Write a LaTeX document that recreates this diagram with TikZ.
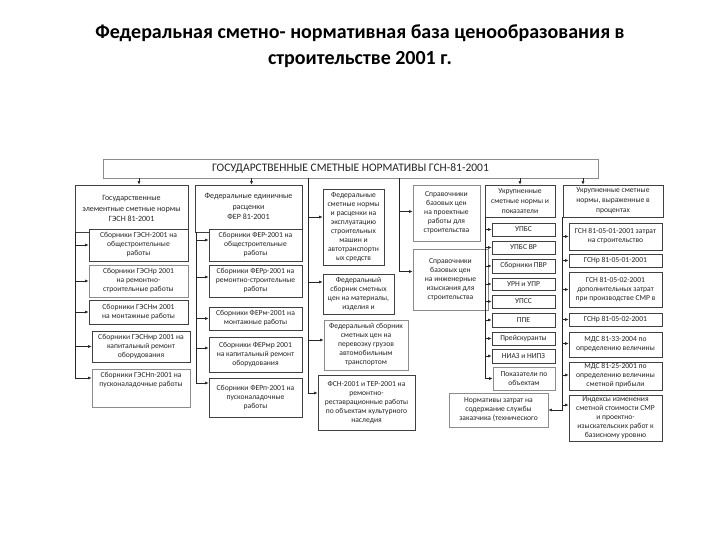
\documentclass[tikz,border=0pt]{standalone}
\usepackage{fontspec}
\setmainfont{Carlito}
\usetikzlibrary{arrows.meta}
\newcommand\mybox[8][]{%
 \pgfmathsetmacro\mbw{#6-#4}\pgfmathsetmacro\mbh{#7-#5}%
 \pgfmathsetmacro\mbx{(#4+#6)/2}\pgfmathsetmacro\mby{(#5+#7)/2}%
 \node[frame,minimum width=\mbw pt,minimum height=\mbh pt,#2] (#3) at (\mbx,\mby) {};%
 \node[txt,#1] at (#3) {#8};}
\begin{document}
\begin{tikzpicture}[x=1pt,y=-1pt,
 frame/.style={draw=black!75,line width=0.7pt,inner sep=0pt,fill=white},
 light/.style={draw=black!45},
 txt/.style={align=center,inner sep=0pt,text=black!85,font=\fontsize{7.6}{9}\selectfont},
 hdr/.style={font=\fontsize{8}{10.5}\selectfont},
 arr/.style={draw=black!85,line width=0.6pt,-{Latex[length=3.5pt,width=3pt]}}]
\fill[white] (0,0) rectangle (720,540);
\useasboundingbox (0,0) rectangle (720,540);
\node[align=center,font=\bfseries\fontsize{20}{26}\selectfont] (title) at (360,46)
 {Федеральная сметно- нормативная база ценообразования в\\строительстве 2001 г.};
% top box
\mybox[font=\fontsize{11.5}{14}\selectfont]{light}{top}{103}{159}{598}{178}{ГОСУДАРСТВЕННЫЕ СМЕТНЫЕ НОРМАТИВЫ ГСН-81-2001}
% column 1
\mybox[hdr]{}{h1}{75}{185}{188}{232}{Государственные\\элементные сметные нормы\\ГЭСН 81-2001}
\mybox{}{a1}{89}{229}{188}{261}{Сборники ГЭСН-2001 на\\общестроительные\\работы}
\mybox{light}{a2}{89}{265}{188}{297}{Сборники ГЭСНр 2001\\на ремонтно-\\строительные работы}
\mybox{}{a3}{89}{300}{188}{324}{Сборники ГЭСНм 2001\\на монтажные работы}
\mybox{}{a4}{92}{331}{190}{362}{Сборники ГЭСНмр 2001 на\\капитальный ремонт\\оборудования}
\mybox[yshift=8pt]{light}{a5}{92}{369}{190}{407}{Сборники ГЭСНп-2001 на\\пусконаладочные работы}
% column 2
\mybox[hdr,yshift=2pt]{}{h2}{195}{185}{302}{232}{Федеральные единичные\\расценки\\ФЕР 81-2001}
\mybox{}{b1}{209}{229}{302}{261}{Сборники ФЕР-2001 на\\общестроительные\\работы}
\mybox{}{b2}{209}{265}{302}{297}{Сборники ФЕРр-2001 на\\ремонтно-строительные\\работы}
\mybox{}{b3}{209}{307}{302}{330}{Сборники ФЕРм-2001 на\\монтажные работы}
\mybox{}{b4}{209}{337}{302}{372}{Сборники ФЕРмр 2001\\на капитальный ремонт\\оборудования}
\mybox{}{b5}{209}{378}{302}{417}{Сборники ФЕРп-2001 на\\пусконаладочные\\работы}
% column 3
\mybox{}{c1}{323}{189}{384}{265}{Федеральные\\сметные нормы\\и расценки на\\эксплуатацию\\строительных\\машин и\\автотранспортн\\ых средств}
\mybox{}{c2}{323}{274}{394}{314}{Федеральный\\сборник сметных\\цен на материалы,\\изделия и}
\mybox{light}{c3}{324}{320}{408}{370}{Федеральный сборник\\сметных цен на\\перевозку грузов\\автомобильным\\транспортом}
\mybox{}{c4}{318}{375}{415}{430}{ФСН-2001 и ТЕР-2001 на\\ремонтно-\\реставрационные работы\\по объектам культурного\\наследия}
% column 4
\mybox{light}{d1}{413}{185}{480}{241}{Справочники\\базовых цен\\на проектные\\работы для\\строительства}
\mybox{light}{d2}{413}{249}{488}{310}{Справочники\\базовых цен\\на инженерные\\изыскания для\\строительства}
% column 5
\mybox[hdr,font=\fontsize{7.6}{10}\selectfont]{}{e0}{485}{185}{555}{217}{Укрупненные\\сметные нормы и\\показатели}
\mybox{}{e1}{492}{223}{555}{236}{УПБС}
\mybox{}{e2}{492}{241}{555}{254}{УПБС ВР}
\mybox{}{e3}{492}{259}{555}{273}{Сборники ПВР}
\mybox{}{e4}{492}{278}{555}{290}{УРН и УПР}
\mybox{}{e5}{492}{295}{555}{308}{УПСС}
\mybox{}{e6}{492}{313}{555}{327}{ППЕ}
\mybox{}{e7}{492}{332}{555}{345}{Прейскуранты}
\mybox{}{e8}{492}{349}{555}{363}{НИАЗ и НИПЗ}
\mybox{light}{e9}{493}{367}{555}{390}{Показатели по\\объектам}
% column 6
\mybox[hdr,font=\fontsize{7.6}{10}\selectfont]{}{f0}{563}{185}{663}{217}{Укрупненные сметные\\нормы, выраженные в\\процентах}
\mybox{}{f1}{569}{223}{662}{250}{ГСН 81-05-01-2001 затрат\\на строительство}
\mybox{}{f2}{569}{254}{662}{267}{ГСНр 81-05-01-2001}
\mybox{}{f3}{569}{272}{662}{307}{ГСН 81-05-02-2001\\дополнительных затрат\\при производстве СМР в}
\mybox{}{f4}{569}{313}{662}{326}{ГСНр 81-05-02-2001}
\mybox{}{f5}{569}{332}{662}{357}{МДС 81-33-2004 по\\определению величины}
\mybox{}{f6}{569}{362}{662}{390}{МДС 81-25-2001 по\\определению величины\\сметной прибыли}
\mybox{}{f7}{569}{395}{662}{441}{Индексы изменения\\сметной стоимости СМР\\и  проектно-\\изыскательских работ к\\базисному уровню}
\mybox{light}{g}{449}{393}{548}{427}{Нормативы затрат на\\содержание службы\\заказчика (технического}
% arrows from top box
\draw[arr] ([xshift=7.5pt]h1.north |- top.south) -- ([xshift=7.5pt]h1.north);
\draw[arr] ([xshift=3pt]h2.north |- top.south) -- ([xshift=3pt]h2.north);
\draw[arr] (e0.north |- top.south) -- (e0.north);
\draw[arr] ([xshift=-30pt]f0.north |- top.south) -- ([xshift=-30pt]f0.north);
\coordinate (t3) at ([xshift=-14pt]c1.west |- top.south);
\coordinate (t4) at ([xshift=-13pt]d1.west |- top.south);
% column 1 connectors
\foreach \n/\s in {a1/0,a2/0,a3/0,a4/0,a5/10}
 \draw[arr] ([xshift=1pt]h1.south west) |- ([yshift=\s pt]\n.west);
% column 2
\foreach \n/\s in {b1/5,b2/4,b3/0,b4/6.5,b5/14.5}
 \draw[arr] ([xshift=1.5pt]h2.south west) |- ([yshift=\s pt]\n.west);
% column 3
\foreach \n/\s in {c1/10,c2/12,c3/5,c4/9.5}
 \draw[arr] (t3) |- ([yshift=\s pt]\n.west);
% column 4
\foreach \n/\s in {d1/1.5,d2/8}
 \draw[arr] (t4) |- ([yshift=\s pt]\n.west);
% column 5
\foreach \n in {e1,e2,e3,e4,e5,e6,e7,e8,e9}
 \draw[arr] ([xshift=1pt]e0.south west) |- (\n.west);
% column 6
\foreach \n/\s in {f1/0,f2/0,f3/0,f4/0,f5/1,f6/1,f7/13}
 \draw[arr] (f0.south west) |- ([yshift=\s pt]\n.west);
\draw[arr] (f0.south west) |- (g.east);
\end{tikzpicture}
\end{document}
